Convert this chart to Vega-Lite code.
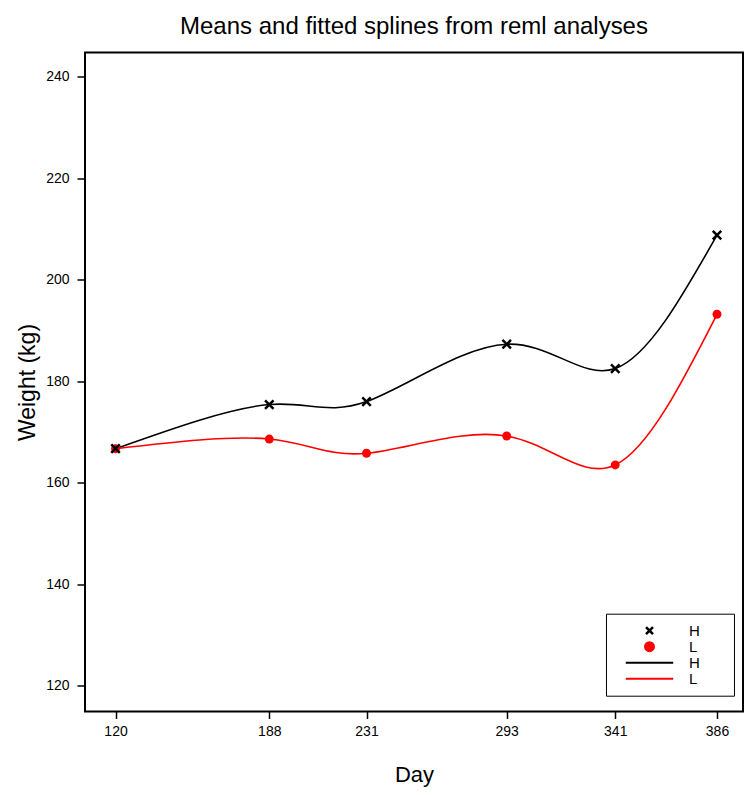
{
  "$schema": "https://vega.github.io/schema/vega-lite/v6.json",
  "autosize": {"type": "none"},
  "padding": {"left": 85, "top": 52.5, "right": 10, "bottom": 83.3},
  "width": 658,
  "height": 659,
  "background": "white",
  "title": {
    "text": "Means and fitted splines from reml analyses",
    "font": "Liberation Sans",
    "fontSize": 24,
    "fontWeight": "normal",
    "color": "black",
    "anchor": "middle",
    "frame": "group",
    "baseline": "alphabetic",
    "offset": -6
  },
  "data": {
    "values": [
      {"day": 120, "weight": 166.7, "group": "H", "pt": "pH", "ln": "lH"},
      {"day": 188, "weight": 175.4, "group": "H", "pt": "pH", "ln": "lH"},
      {"day": 231, "weight": 176.0, "group": "H", "pt": "pH", "ln": "lH"},
      {"day": 293, "weight": 187.3, "group": "H", "pt": "pH", "ln": "lH"},
      {"day": 341, "weight": 182.5, "group": "H", "pt": "pH", "ln": "lH"},
      {"day": 386, "weight": 208.8, "group": "H", "pt": "pH", "ln": "lH"},
      {"day": 120, "weight": 166.7, "group": "L", "pt": "pL", "ln": "lL"},
      {"day": 188, "weight": 168.6, "group": "L", "pt": "pL", "ln": "lL"},
      {"day": 231, "weight": 165.8, "group": "L", "pt": "pL", "ln": "lL"},
      {"day": 293, "weight": 169.2, "group": "L", "pt": "pL", "ln": "lL"},
      {"day": 341, "weight": 163.5, "group": "L", "pt": "pL", "ln": "lL"},
      {"day": 386, "weight": 193.2, "group": "L", "pt": "pL", "ln": "lL"}
    ]
  },
  "encoding": {
    "x": {
      "field": "day",
      "type": "quantitative",
      "scale": {"domain": [106.5, 397.5], "nice": false, "zero": false},
      "axis": {
        "title": "Day",
        "values": [120, 188, 231, 293, 341, 386],
        "labelPadding": 6,
        "titlePadding": 26,
        "titleFontSize": 22
      }
    },
    "y": {
      "field": "weight",
      "type": "quantitative",
      "scale": {"domain": [114.9, 244.8], "nice": false, "zero": false},
      "axis": {
        "title": "Weight (kg)",
        "values": [120, 140, 160, 180, 200, 220, 240],
        "labelPadding": 8,
        "titlePadding": 6,
        "tickSize": 8,
        "titleFontSize": 23
      }
    }
  },
  "layer": [
    {
      "mark": {"type": "line", "interpolate": "natural", "strokeWidth": 1.6},
      "encoding": {
        "color": {
          "field": "ln",
          "type": "nominal",
          "scale": {"domain": ["pH", "pL", "lH", "lL"], "range": ["black", "red", "black", "red"]},
          "legend": {
            "title": "\u00a0",
            "titleFontSize": 8,
            "titleOrient": "right",
            "titlePadding": 25,
            "orient": "none",
            "legendX": 521,
            "legendY": 561.2,
            "padding": 9,
            "strokeColor": "black",
            "fillColor": "white",
            "clipHeight": 16,
            "rowPadding": 0,
            "symbolOffset": 27,
            "labelOffset": 32,
            "labelFont": "Liberation Sans",
            "labelFontSize": 15,
            "labelColor": "black",
            "labelExpr": "(datum.value == 'pH' || datum.value == 'lH') ? 'H' : 'L'",
            "encode": {
              "symbols": {
                "update": {
                  "shape": {"signal": "datum.value == 'pH' ? 'M-1,-1L1,1M-1,1L1,-1' : (datum.value == 'pL' ? 'circle' : 'stroke')"},
                  "size": {"signal": "datum.value == 'pH' ? 49 : (datum.value == 'pL' ? 80 : 2250)"},
                  "fill": {"signal": "datum.value == 'pL' ? 'red' : 'transparent'"},
                  "stroke": {"signal": "datum.value == 'pL' ? 'transparent' : (datum.value == 'lL' ? 'red' : 'black')"},
                  "strokeWidth": {"signal": "datum.value == 'pH' ? 2.5 : 2"},
                  "opacity": {"value": 1}
                }
              }
            }
          }
        },
        "order": {"field": "day", "type": "quantitative"}
      }
    },
    {
      "transform": [{"filter": "datum.group == 'L'"}],
      "mark": {"type": "point", "shape": "circle", "filled": true, "size": 80, "opacity": 1},
      "encoding": {
        "color": {"field": "pt", "type": "nominal"}
      }
    },
    {
      "transform": [{"filter": "datum.group == 'H'"}],
      "mark": {"type": "point", "shape": "M-1,-1L1,1M-1,1L1,-1", "filled": false, "size": 72, "strokeWidth": 2.5, "opacity": 1},
      "encoding": {
        "color": {"field": "pt", "type": "nominal"}
      }
    }
  ],
  "config": {
    "font": "Liberation Sans",
    "view": {"stroke": "black", "strokeWidth": 2},
    "axis": {
      "domain": false,
      "grid": false,
      "ticks": true,
      "tickColor": "black",
      "tickWidth": 1.5,
      "tickSize": 7,
      "labelFont": "Liberation Sans",
      "labelFontSize": 14,
      "labelColor": "black",
      "titleFont": "Liberation Sans",
      "titleFontWeight": "normal",
      "titleColor": "black"
    }
  }
}
